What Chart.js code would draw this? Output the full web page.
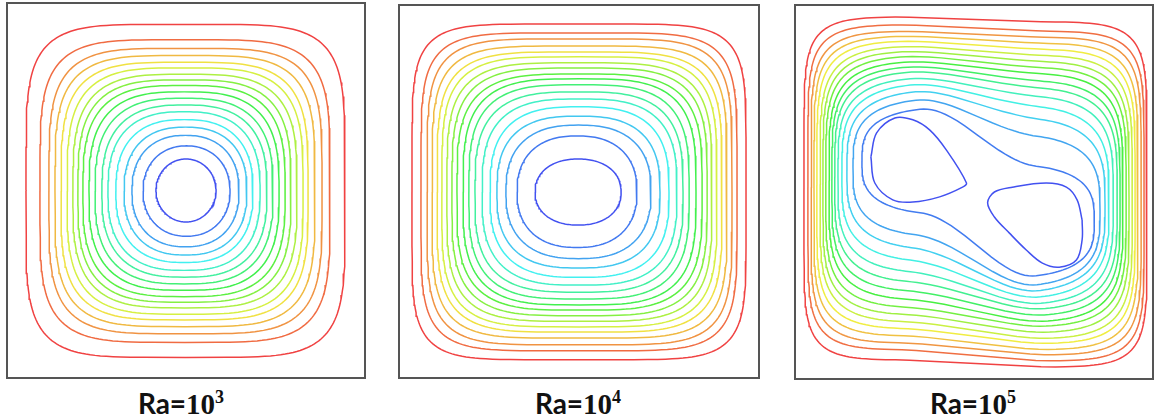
<!DOCTYPE html>
<html>
<head>
<meta charset="utf-8">
<script src="https://cdn.jsdelivr.net/npm/chart.js@4.4.1/dist/chart.umd.min.js"></script>
<style>
  html, body { margin: 0; padding: 0; background: #fff; }
  body { width: 1154px; height: 418px; position: relative; overflow: hidden; }
  .panel { position: absolute; }
  .lbl {
    position: absolute; top: 388px; width: 200px; text-align: center;
    font: bold 28px Lato, "Open Sans", sans-serif; line-height: 30px; color: #111;
  }
  .lbl .num { font-family: "Liberation Serif", serif; font-size: 29px; }
  .lbl sup { font-size: 18px; vertical-align: 0; position: relative; top: -11px; }
</style>
</head>
<body>
<div class="panel" style="left:6px;top:2px;width:360px;height:377px"><canvas id="ra3"></canvas></div>
<div class="panel" style="left:398px;top:4px;width:362px;height:375px"><canvas id="ra4"></canvas></div>
<div class="panel" style="left:794px;top:4px;width:360px;height:376px"><canvas id="ra5"></canvas></div>
<div class="lbl" style="left:81px">Ra=<span class="num">10<sup>3</sup></span></div>
<div class="lbl" style="left:478px">Ra=<span class="num">10<sup>4</sup></span></div>
<div class="lbl" style="left:873px">Ra=<span class="num">10<sup>5</sup></span></div>
<script>
// streamlines, cavity coords 0..1 (y up), outermost contour first
// each contour: left/right extent, top/bottom level, shape exponent

// Ra = 10^3
const ra3Left   = [.053,.092,.117,.134,.151,.168,.184,.198,.212,.229,.246,.265,.282,.304,.327,.349,.380,.416];
const ra3Right  = [.944,.902,.880,.860,.841,.827,.810,.793,.777,.760,.743,.726,.707,.687,.670,.648,.623,.584];
const ra3Top    = [.943,.902,.879,.860,.842,.827,.810,.795,.780,.763,.746,.728,.710,.689,.669,.647,.619,.584];
const ra3Bottom = [.055,.095,.118,.137,.155,.170,.187,.202,.217,.234,.251,.269,.287,.308,.328,.350,.378,.416];
const ra3Shape  = [5,4.5,4.2,3.95,3.75,3.55,3.4,3.25,3.1,2.95,2.8,2.7,2.6,2.5,2.4,2.3,2.15,2];

// Ra = 10^4
const ra4Left   = [.036,.061,.078,.092,.106,.119,.133,.147,.161,.178,.194,.211,.231,.253,.272,.297,.328,.378];
const ra4Right  = [.964,.939,.925,.911,.897,.883,.869,.856,.842,.825,.806,.789,.772,.750,.725,.700,.661,.617];
const ra4Top    = [.949,.925,.909,.890,.874,.861,.845,.831,.815,.802,.786,.767,.748,.727,.702,.678,.649,.587];
const ra4Bottom = [.049,.073,.089,.107,.123,.137,.152,.167,.182,.196,.212,.230,.249,.270,.295,.320,.350,.410];
const ra4Shape  = [6,5.4,5,4.7,4.4,4.2,4,3.8,3.6,3.45,3.3,3.15,3,2.85,2.7,2.5,2.35,2.2];

// Ra = 10^5 : tops/bottoms differ between left part and right part of the cavity
const ra5Left    = [.025,.036,.045,.053,.061,.070,.078,.086,.095,.103,.111,.120,.131,.145,.162,.187];
const ra5Right   = [.983,.975,.967,.958,.950,.942,.933,.925,.916,.908,.900,.889,.877,.866,.852,.836];
const ra5TopL    = [.968,.947,.930,.917,.904,.890,.877,.864,.850,.837,.824,.807,.791,.773,.751,.727];
const ra5TopR    = [.955,.930,.914,.898,.882,.866,.850,.834,.818,.799,.781,.759,.733,.701,.655,.575];
const ra5BottomL = [.051,.078,.096,.115,.134,.152,.171,.190,.211,.233,.257,.283,.313,.345,.380,.439];
const ra5BottomR = [.032,.048,.064,.078,.094,.107,.123,.139,.152,.168,.184,.198,.214,.230,.246,.270];
const ra5Shape   = [7,6.5,6,5.6,5.3,5,4.8,4.6,4.4,4.2,4,3.8,3.6,3.4,3.3,3.1];
// the two inner cells
const ra5EyeAX = [.212,.228,.279,.329,.376,.423,.479,.468,.404,.329,.273,.223,.212];
const ra5EyeAY = [.594,.658,.698,.693,.666,.612,.524,.513,.487,.473,.479,.524,.594];
const ra5EyeBX = [.802,.802,.786,.738,.691,.646,.599,.557,.538,.557,.607,.702,.758,.788,.802];
const ra5EyeBY = [.425,.372,.318,.299,.310,.345,.390,.433,.471,.500,.513,.524,.513,.479,.425];

function levelColor(i, n) {
    const h = 235 * i / (n - 1);
    return `hsl(${h.toFixed(0)}, 85%, 60%)`;
}

// closed contour through the read extents
function ring(L, R, TL, TR, BL, BR, n) {
    const pts = [];
    const steps = 180;
    const e = 2 / n;
    for (let k = 0; k <= steps; k++) {
        const t = Math.PI - 2 * Math.PI * k / steps;
        const c = Math.cos(t), s = Math.sin(t);
        const fx = Math.sign(c) * Math.pow(Math.abs(c), e);
        const u = Math.sign(s) * Math.pow(Math.abs(s), e);
        const xi = (fx + 1) / 2;
        let w = Math.min(1, Math.max(0, (xi - 0.25) / 0.5));
        w = w * w * (3 - 2 * w);
        const top = TL + (TR - TL) * w;
        const bot = BL + (BR - BL) * w;
        pts.push({ x: L + xi * (R - L), y: (top + bot) / 2 + u * (top - bot) / 2 });
    }
    return pts;
}

function lineSet(data, color, tension) {
    return {
        data: data,
        borderColor: color,
        borderWidth: 1.5,
        pointRadius: 0,
        showLine: true,
        fill: false,
        tension: tension || 0,
    };
}

const frame = {
    id: 'frame',
    afterDraw(chart) {
        const { ctx, chartArea: a } = chart;
        ctx.save();
        ctx.strokeStyle = '#555';
        ctx.lineWidth = 2;
        ctx.strokeRect(a.left, a.top, a.right - a.left, a.bottom - a.top);
        ctx.restore();
    }
};

function makeChart(id, datasets) {
    new Chart(document.getElementById(id), {
        type: 'scatter',
        data: { datasets: datasets },
        options: {
            responsive: true,
            maintainAspectRatio: false,
            animation: false,
            layout: { padding: 1 },
            plugins: { legend: { display: false }, tooltip: { enabled: false } },
            scales: {
                x: { type: 'linear', min: 0, max: 1, display: false },
                y: { type: 'linear', min: 0, max: 1, display: false },
            },
        },
        plugins: [frame],
    });
}

// Ra=10^3
const sets3 = ra3Left.map((l, i) => lineSet(
    ring(l, ra3Right[i], ra3Top[i], ra3Top[i], ra3Bottom[i], ra3Bottom[i], ra3Shape[i]),
    levelColor(i, ra3Left.length)));
makeChart('ra3', sets3);

// Ra=10^4
const sets4 = ra4Left.map((l, i) => lineSet(
    ring(l, ra4Right[i], ra4Top[i], ra4Top[i], ra4Bottom[i], ra4Bottom[i], ra4Shape[i]),
    levelColor(i, ra4Left.length)));
makeChart('ra4', sets4);

// Ra=10^5
const nLev5 = ra5Left.length + 1;
const sets5 = ra5Left.map((l, i) => lineSet(
    ring(l, ra5Right[i], ra5TopL[i], ra5TopR[i], ra5BottomL[i], ra5BottomR[i], ra5Shape[i]),
    levelColor(i, nLev5)));
const eyeColor = levelColor(nLev5 - 1, nLev5);
sets5.push(lineSet(ra5EyeAX.map((x, i) => ({ x: x, y: ra5EyeAY[i] })), eyeColor, 0.35));
sets5.push(lineSet(ra5EyeBX.map((x, i) => ({ x: x, y: ra5EyeBY[i] })), eyeColor, 0.35));
makeChart('ra5', sets5);
</script>
</body>
</html>
